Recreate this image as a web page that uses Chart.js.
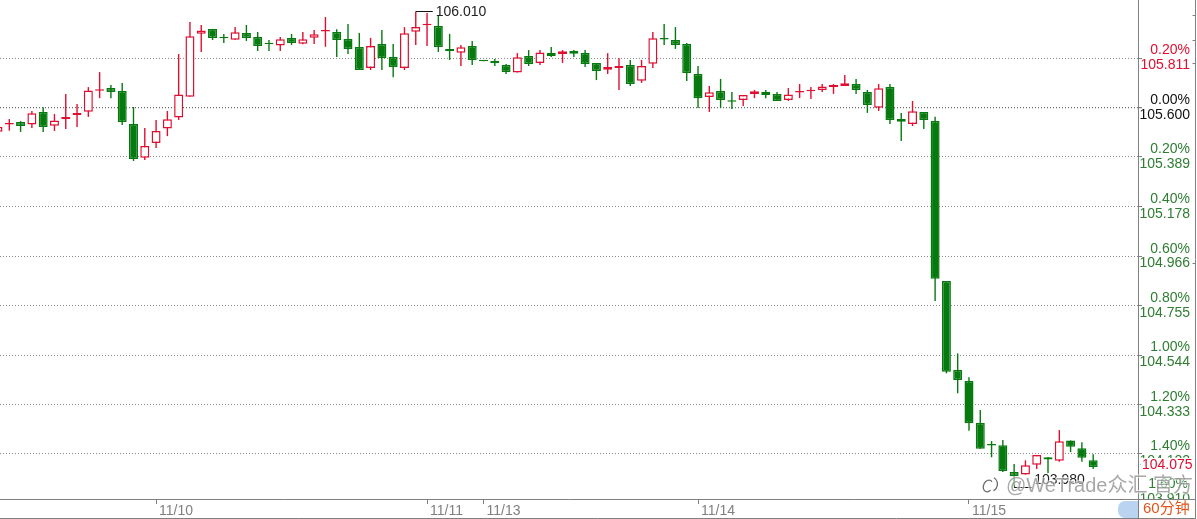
<!DOCTYPE html>
<html>
<head>
<meta charset="utf-8">
<style>
  html, body { margin: 0; padding: 0; background: #fff; overflow: hidden; }
  canvas { display: block; }
</style>
<script src="https://cdn.jsdelivr.net/npm/chart.js@4"></script>
</head>
<body>
<canvas id="kline" width="1197" height="519"></canvas>
<script>
// 60 minute candles
const opens = [
  105.497, 105.527, 105.538, 105.527, 105.581, 105.522, 105.551, 105.568, 105.582, 105.672,
  105.683, 105.670, 105.530, 105.386, 105.449, 105.510, 105.557, 105.646, 105.915, 105.935,
  105.897, 105.889, 105.918, 105.901, 105.871, 105.865, 105.897, 105.872, 105.898, 105.924,
  105.922, 105.892, 105.858, 105.769, 105.871, 105.815, 105.769, 105.923, 105.951, 105.948,
  105.850, 105.834, 105.862, 105.798, 105.798, 105.781, 105.749, 105.820, 105.790, 105.832,
  105.828, 105.841, 105.832, 105.790, 105.761, 105.769, 105.781, 105.714, 105.787, 105.891,
  105.888, 105.871, 105.743, 105.645, 105.670, 105.626, 105.632, 105.658, 105.666, 105.658,
  105.632, 105.664, 105.669, 105.675, 105.687, 105.692, 105.700, 105.666, 105.599, 105.687,
  105.551, 105.530, 105.581, 105.542, 104.860, 104.480, 104.433, 104.254, 104.159, 104.159,
  104.045, 104.034, 104.076, 104.108, 104.093, 104.180, 104.146, 104.095
];
const highs = [
  105.522, 105.551, 105.542, 105.585, 105.601, 105.572, 105.658, 105.615, 105.687, 105.751,
  105.696, 105.705, 105.602, 105.513, 105.547, 105.585, 105.828, 105.965, 105.952, 105.935,
  105.914, 105.943, 105.952, 105.922, 105.888, 105.901, 105.914, 105.922, 105.931, 105.986,
  105.934, 105.956, 105.918, 105.897, 105.931, 105.871, 105.943, 106.010, 106.003, 105.990,
  105.914, 105.867, 105.884, 105.798, 105.807, 105.786, 105.832, 105.845, 105.845, 105.858,
  105.845, 105.845, 105.845, 105.790, 105.832, 105.811, 105.803, 105.803, 105.922, 105.956,
  105.943, 105.875, 105.777, 105.692, 105.722, 105.666, 105.653, 105.675, 105.675, 105.666,
  105.683, 105.700, 105.687, 105.700, 105.700, 105.739, 105.722, 105.675, 105.700, 105.700,
  105.577, 105.628, 105.581, 105.561, 104.860, 104.551, 104.449, 104.310, 104.177, 104.182,
  104.079, 104.095, 104.118, 104.109, 104.224, 104.180, 104.172, 104.121
];
const lows = [
  105.494, 105.501, 105.496, 105.513, 105.496, 105.500, 105.508, 105.517, 105.560, 105.640,
  105.640, 105.525, 105.372, 105.376, 105.427, 105.478, 105.547, 105.646, 105.837, 105.888,
  105.875, 105.889, 105.884, 105.841, 105.841, 105.841, 105.867, 105.870, 105.871, 105.859,
  105.815, 105.828, 105.760, 105.760, 105.760, 105.729, 105.760, 105.867, 105.862, 105.837,
  105.803, 105.777, 105.781, 105.797, 105.777, 105.743, 105.749, 105.777, 105.781, 105.815,
  105.790, 105.815, 105.773, 105.717, 105.743, 105.675, 105.692, 105.705, 105.769, 105.867,
  105.850, 105.713, 105.598, 105.581, 105.598, 105.594, 105.606, 105.640, 105.640, 105.628,
  105.628, 105.640, 105.636, 105.666, 105.658, 105.692, 105.658, 105.577, 105.585, 105.530,
  105.457, 105.521, 105.508, 104.775, 104.466, 104.381, 104.221, 104.144, 104.108, 104.045,
  103.980, 104.034, 104.058, 104.041, 104.089, 104.130, 104.089, 104.058
];
const closes = [
  105.518, 105.530, 105.521, 105.575, 105.517, 105.545, 105.560, 105.577, 105.673, 105.673,
  105.666, 105.538, 105.380, 105.436, 105.500, 105.550, 105.656, 105.904, 105.929, 105.897,
  105.895, 105.921, 105.897, 105.862, 105.870, 105.891, 105.875, 105.891, 105.912, 105.925,
  105.888, 105.850, 105.760, 105.862, 105.811, 105.773, 105.917, 105.943, 105.952, 105.858,
  105.841, 105.857, 105.803, 105.797, 105.789, 105.751, 105.814, 105.786, 105.835, 105.820,
  105.840, 105.829, 105.786, 105.756, 105.773, 105.777, 105.700, 105.777, 105.895, 105.890,
  105.867, 105.747, 105.640, 105.665, 105.632, 105.625, 105.653, 105.669, 105.653, 105.628,
  105.656, 105.665, 105.670, 105.690, 105.696, 105.703, 105.675, 105.611, 105.682, 105.547,
  105.539, 105.584, 105.547, 104.870, 104.473, 104.438, 104.253, 104.144, 104.158, 104.049,
  104.028, 104.074, 104.118, 104.099, 104.176, 104.153, 104.106, 104.066
];

const dateTicks = [14, 38, 43, 62, 86];
const dateLabels = ['11/10', '11/11', '11/13', '11/14', '11/15'];
const priceTicks = [105.811, 105.600, 105.389, 105.178, 104.966, 104.755, 104.544, 104.333, 104.122];
const priceLabels = ['105.811', '105.600', '105.389', '105.178', '104.966', '104.755', '104.544', '104.333', '104.122'];
const pctLabels = ['0.20%', '0.00%', '0.20%', '0.40%', '0.60%', '0.80%', '1.00%', '1.20%', '1.40%'];
const basePrice = 105.600;
const lastPrice = 104.075;
const lastTickPrice = '103.910';
const lastTickPct = '1.60%';
const periodLabel = '60分钟';
const watermark = '@WeTrade众汇 官方';

const RED = '#e00f30';
const GREEN = '#067a0f';
const GRAY = '#808080';
const FONT_FAMILY = '"Liberation Sans", "Noto Sans CJK SC", sans-serif';
const LABEL_FONT = '14px ' + FONT_FAMILY;

const isUp = i => closes[i] >= opens[i];
const candleColor = c => (isUp(c.dataIndex) ? RED : GREEN);

function labelColor(value) {
  if (value > basePrice) return RED;
  if (value === basePrice) return '#111';
  return '#2e7d32';
}

// everything the axes do not draw: status bar, max/min flags, last price, watermark
const extras = {
  id: 'extras',
  afterDraw(chart) {
    const { ctx, scales: { x, y } } = chart;
    const edge = 1195.5;
    const axisX = Math.round(chart.chartArea.right) + 0.5;
    const axisY = Math.round(chart.chartArea.bottom) + 0.5;

    ctx.save();
    ctx.strokeStyle = GRAY;
    ctx.lineWidth = 1;
    ctx.beginPath();
    ctx.moveTo(axisX, axisY);
    ctx.lineTo(edge, axisY);
    ctx.moveTo(axisX, axisY);
    ctx.lineTo(axisX, 518);
    ctx.moveTo(0, 518.5);
    ctx.lineTo(edge, 518.5);
    // sliver of the next panel at the right edge
    ctx.moveTo(edge, 0);
    ctx.lineTo(edge, 519);
    [15, 40, 63, 263].forEach(t => {
      ctx.moveTo(edge - 3, t + 0.5);
      ctx.lineTo(edge, t + 0.5);
    });
    ctx.stroke();

    // scroll handle
    ctx.fillStyle = '#b9d3f1';
    ctx.beginPath();
    ctx.roundRect(1118, 501, 20, 17, [7, 0, 0, 7]);
    ctx.fill();

    ctx.font = '15px ' + FONT_FAMILY;
    ctx.textBaseline = 'middle';
    ctx.textAlign = 'left';
    ctx.fillStyle = '#e2541c';
    ctx.fillText(periodLabel, 1143, 509);
    ctx.font = LABEL_FONT;

    // high flag
    const maxHigh = Math.max(...highs);
    const hx = x.getPixelForValue(highs.indexOf(maxHigh));
    const hy = Math.round(y.getPixelForValue(maxHigh)) + 0.5;
    ctx.strokeStyle = '#111';
    ctx.beginPath();
    ctx.moveTo(hx, hy);
    ctx.lineTo(hx + 17, hy);
    ctx.stroke();
    ctx.fillStyle = '#222';
    ctx.fillText(maxHigh.toFixed(3), hx + 20, hy + 1);

    // low flag
    const minLow = Math.min(...lows);
    const lx = x.getPixelForValue(lows.indexOf(minLow));
    const ly = Math.round(y.getPixelForValue(minLow)) + 0.5;
    ctx.beginPath();
    ctx.moveTo(lx, ly);
    ctx.lineTo(lx + 18, ly);
    ctx.stroke();
    ctx.fillText(minLow.toFixed(3), lx + 20, ly - 7);

    // last axis label does not fit, it gets squeezed against the bottom
    ctx.save();
    ctx.beginPath();
    ctx.rect(axisX, 0, edge - axisX, 499);
    ctx.clip();
    ctx.fillStyle = '#2e7d32';
    ctx.textAlign = 'right';
    ctx.fillText(lastTickPct, 1188, 484);
    ctx.fillText(lastTickPrice, 1190, 499.5);
    ctx.restore();

    // last price sits on top of the 104.122 label
    const py = y.getPixelForValue(lastPrice);
    ctx.fillStyle = '#fff';
    ctx.fillRect(1141, py - 7, 53, 14);
    ctx.fillStyle = RED;
    ctx.textAlign = 'left';
    ctx.fillText(lastPrice.toFixed(3), 1142, py);

    // watermark
    ctx.font = '20px ' + FONT_FAMILY;
    ctx.lineWidth = 2;
    ctx.strokeStyle = 'rgba(255,255,255,0.6)';
    ctx.strokeText(watermark, 1006, 486);
    ctx.fillStyle = 'rgba(110,110,110,0.6)';
    ctx.fillText(watermark, 1006, 486);

    ctx.strokeStyle = 'rgba(70,70,70,0.8)';
    ctx.lineWidth = 1.3;
    ctx.beginPath();
    ctx.ellipse(988, 486, 4.5, 6, 0.4, 0.5, 5.2);
    ctx.stroke();
    ctx.beginPath();
    ctx.arc(990, 484, 7.5, -1, 1.1);
    ctx.stroke();
    ctx.restore();
  }
};

new Chart(document.getElementById('kline').getContext('2d'), {
  type: 'bar',
  data: {
    datasets: [
      {
        label: 'body',
        order: 1,
        grouped: false,
        barThickness: 9,
        minBarLength: 1.5,
        borderWidth: 1.5,
        borderSkipped: false,
        inflateAmount: 0,
        data: opens.map((o, i) => ({ x: i, y: [o, closes[i]] })),
        backgroundColor: c => (isUp(c.dataIndex) ? '#fff' : GREEN),
        borderColor: candleColor
      },
      {
        label: 'wick',
        order: 2,
        grouped: false,
        barThickness: 1.4,
        inflateAmount: 0,
        borderWidth: 0,
        data: highs.map((h, i) => ({ x: i, y: [lows[i], h] })),
        backgroundColor: candleColor
      }
    ]
  },
  options: {
    responsive: false,
    animation: false,
    devicePixelRatio: 1,
    events: [],
    // labels are right aligned against the axis box, so the box stops short of the canvas edge
    layout: { padding: { right: 7 }, autoPadding: false },
    plugins: { legend: { display: false }, tooltip: { enabled: false } },
    scales: {
      x: {
        type: 'linear',
        offset: false,
        min: 0.176,
        max: 100.97,
        afterFit: s => { s.height = 20; s.paddingLeft = 0; s.paddingRight = 0; },
        afterBuildTicks: s => { s.ticks = dateTicks.map(value => ({ value })); },
        border: { color: GRAY },
        grid: { drawOnChartArea: false, offset: false, tickLength: 5, color: GRAY, tickColor: GRAY },
        ticks: {
          autoSkip: false,
          maxRotation: 0,
          align: 'start',
          labelOffset: 3,
          padding: -1,
          color: GRAY,
          font: { family: '"Liberation Sans", sans-serif', size: 14 },
          callback: v => dateLabels[dateTicks.indexOf(v)]
        }
      },
      y: {
        position: 'right',
        min: 103.93,
        max: 106.0586,
        afterFit: s => { s.width = 52; s.paddingTop = 0; s.paddingBottom = 0; },
        afterBuildTicks: s => { s.ticks = priceTicks.map(value => ({ value })); },
        border: { color: GRAY, dash: [1, 2] },
        grid: {
          color: c => (c.tick && c.tick.value === basePrice ? '#6a6a6a' : '#8a8a8a'),
          lineWidth: c => (c.tick && c.tick.value === basePrice ? 1.2 : 1),
          tickLength: 4,
          tickColor: GRAY
        },
        ticks: {
          autoSkip: false,
          crossAlign: 'far',
          padding: 0,
          color: c => labelColor(c.tick.value),
          font: { family: '"Liberation Sans", sans-serif', size: 14, lineHeight: 1.07 },
          callback: v => {
            const i = priceTicks.indexOf(v);
            return [pctLabels[i], priceLabels[i]];
          }
        }
      }
    }
  },
  plugins: [extras]
});
</script>
</body>
</html>
